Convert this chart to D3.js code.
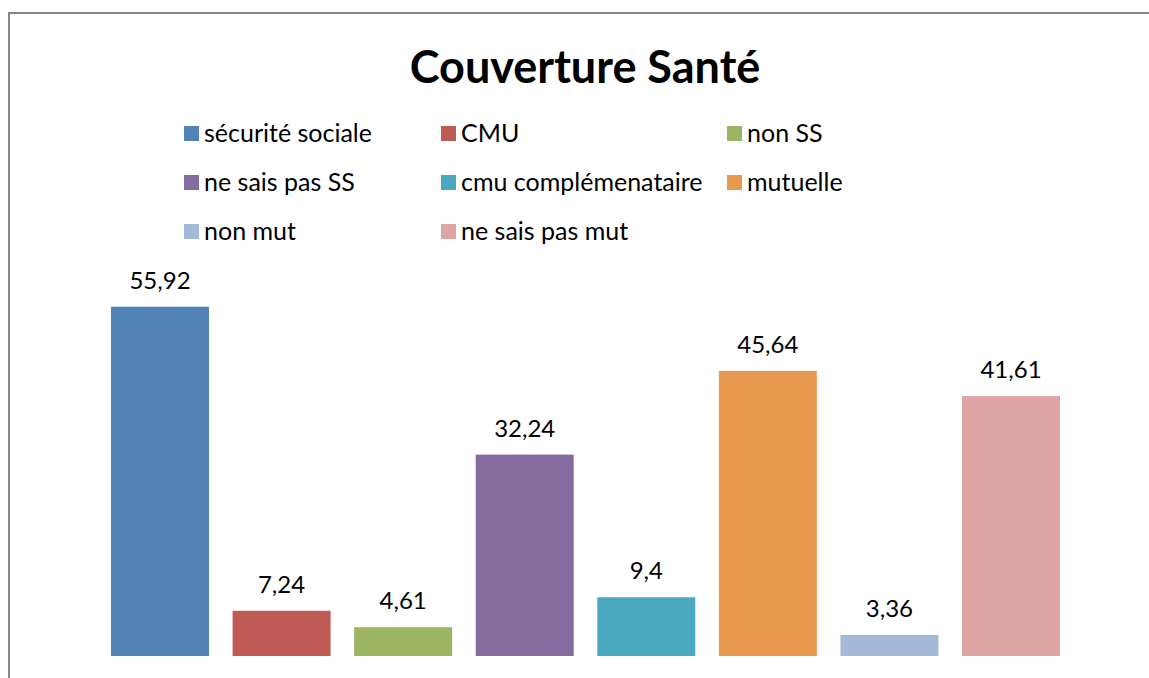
<!DOCTYPE html>
<html lang="fr">
<head>
    <meta charset="UTF-8">
    <title>Couverture Santé</title>
    <script src="https://d3js.org/d3.v7.min.js"></script>
    <style>
        body { margin: 0; background: #fff; }
        text { font-family: Lato, "Open Sans", sans-serif; fill: #000; }
    </style>
</head>
<body>
<svg width="1149" height="678"></svg>

<script>
    // chart data
    const categories = ["sécurité sociale", "CMU", "non SS", "ne sais pas SS",
        "cmu complémenataire", "mutuelle", "non mut", "ne sais pas mut"];
    const values = [55.92, 7.24, 4.61, 32.24, 9.4, 45.64, 3.36, 41.61];
    const labels = ["55,92", "7,24", "4,61", "32,24", "9,4", "45,64", "3,36", "41,61"];
    const colors = ["#5383b5", "#be5b54", "#9bb563", "#856c9e",
        "#4aa8be", "#e89a50", "#a4b9d7", "#dea5a5"];

    let svg = d3.select("svg");

    // outer chart frame (runs past the window on the right and bottom)
    svg.append("rect")
        .attr("x", 9).attr("y", 13)
        .attr("width", 1300).attr("height", 900)
        .attr("fill", "none")
        .attr("stroke", "#868686")
        .attr("stroke-width", 2);

    // title
    svg.append("text")
        .attr("x", 585).attr("y", 83)
        .attr("text-anchor", "middle")
        .style("font-size", "45px")
        .style("font-weight", "bold")
        .text("Couverture Santé");

    // legend: 3 columns, 3 rows
    const colX = [184, 441, 727];
    const legend = svg.append("g").attr("class", "legend")
        .selectAll("g")
        .data(categories)
        .enter()
        .append("g")
        .attr("transform", (d, i) => `translate(${colX[i % 3]},${142 + Math.floor(i / 3) * 49})`);

    legend.append("rect")
        .attr("x", 0).attr("y", -16)
        .attr("width", 15).attr("height", 15)
        .attr("fill", (d, i) => colors[i]);

    legend.append("text")
        .attr("x", 20).attr("y", 0)
        .style("font-size", "25px")
        .text(d => d);

    // scales
    const x = d3.scaleBand()
        .domain(categories)
        .range([111, 1060])
        .paddingInner(0.194)
        .paddingOuter(0);

    const y = d3.scaleLinear()
        .domain([0, 60])
        .range([656, 281.2]);

    // bars
    svg.append("g").attr("class", "bars")
        .selectAll("rect")
        .data(values)
        .enter()
        .append("rect")
        .attr("x", (d, i) => x(categories[i]))
        .attr("y", d => y(d))
        .attr("width", x.bandwidth())
        .attr("height", d => y(0) - y(d))
        .attr("fill", (d, i) => colors[i]);

    // value labels
    svg.append("g").attr("class", "labels")
        .selectAll("text")
        .data(values)
        .enter()
        .append("text")
        .attr("x", (d, i) => x(categories[i]) + x.bandwidth() / 2)
        .attr("y", d => y(d) - 18)
        .attr("text-anchor", "middle")
        .style("font-size", "24px")
        .text((d, i) => labels[i]);
</script>
</body>
</html>
